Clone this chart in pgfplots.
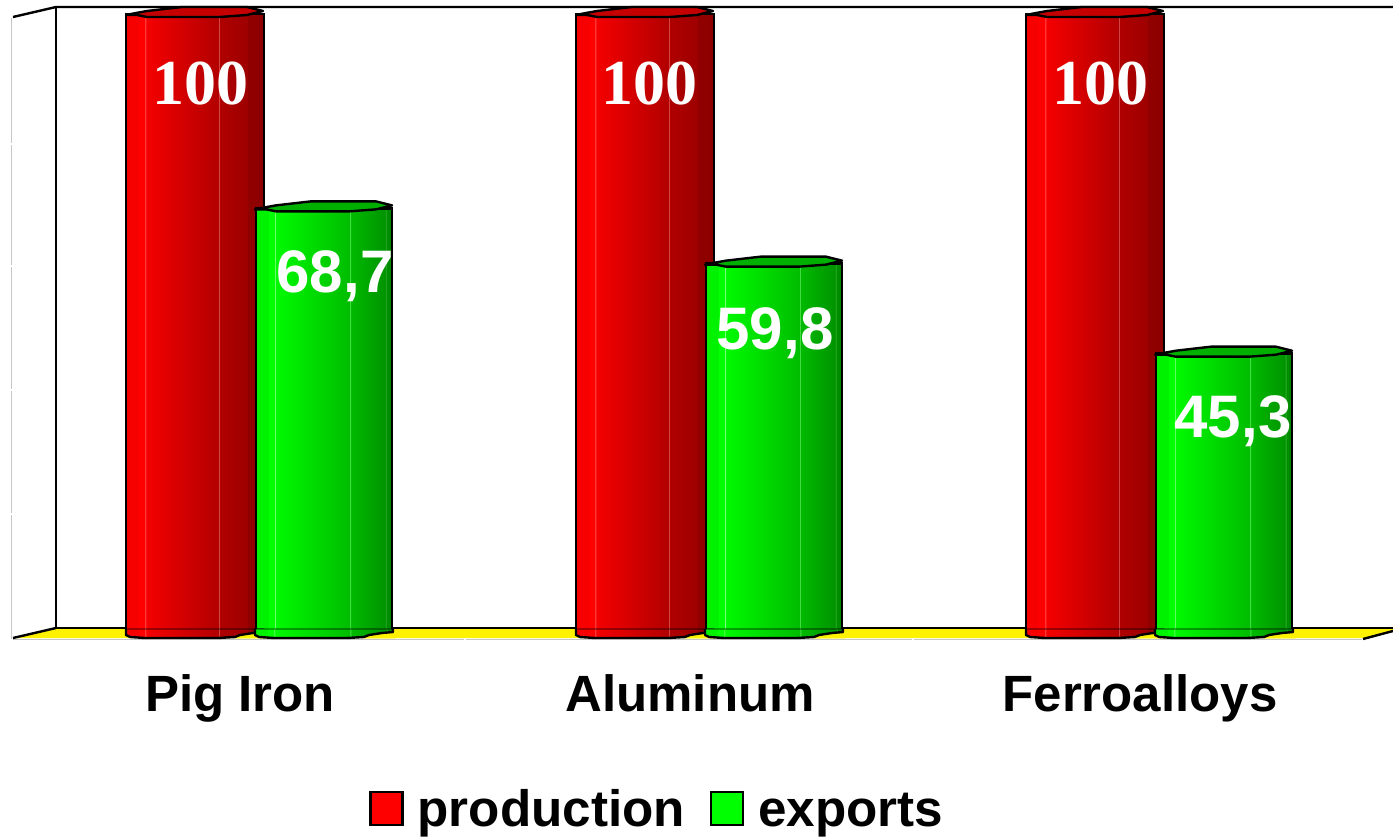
\documentclass[border=0pt]{standalone}
\usepackage{fontspec}
\setmainfont{Liberation Sans}
\newfontfamily\serifb{Liberation Serif}
\usepackage{pgfplots}
\usepackage{pgfplotstable}
\pgfplotsset{compat=1.18}
\pgfplotstableread{
x v
0 100
1 100
2 100
}\prodtable
\pgfplotstableread{
x v
0 68.7
1 59.8
2 45.3
}\exporttable
\pgfdeclarehorizontalshading{redbar}{100bp}{
 rgb(0bp)=(.97,0,0); rgb(25bp)=(.97,0,0); rgb(29.5bp)=(.97,0,0); rgb(29.6bp)=(1,0,0); rgb(31.8bp)=(1,0,0);
 rgb(32bp)=(1,.5,.5); rgb(32.3bp)=(.96,0,0); rgb(58.4bp)=(.70,0,0); rgb(58.6bp)=(.87,.35,.35); rgb(59bp)=(.69,0,0);
 rgb(69bp)=(.62,0,0); rgb(69.2bp)=(.57,0,0); rgb(75bp)=(.55,0,0); rgb(100bp)=(.55,0,0)}
\pgfdeclarehorizontalshading{greenbar}{100bp}{
 rgb(0bp)=(0,.95,0); rgb(25bp)=(0,.95,0); rgb(29.5bp)=(0,.95,0); rgb(29.6bp)=(0,1,0); rgb(31.8bp)=(0,1,0);
 rgb(32bp)=(.55,1,.55); rgb(32.3bp)=(0,.98,0); rgb(59.3bp)=(0,.74,0); rgb(59.5bp)=(.3,.88,.3); rgb(59.9bp)=(0,.73,0);
 rgb(72.4bp)=(0,.58,0); rgb(72.6bp)=(.2,.7,.2); rgb(73bp)=(0,.56,0); rgb(75bp)=(0,.52,0); rgb(100bp)=(0,.52,0)}
\definecolor{capred}{RGB}{196,0,0}
\definecolor{capgreen}{RGB}{0,176,0}
\newcommand\defcap[2]{%
 \pgfdeclareplotmark{#1}{%
  \begin{scope}[x=.5pt,y=-.5pt]
   \draw[fill=#2,line width=1.2pt,line join=round]
    (-69,1)--(-59,-1)--(-48,-3)--(-22,-6)--(-13,-7)--(52,-7)--(68,-3)--(52,1)--(25,3)--(-48,3)--(-58,1)--cycle;
  \end{scope}}}
\newcommand\defbottom[2]{%
 \pgfdeclareplotmark{#1}{%
  \begin{scope}[x=.5pt,y=-.5pt]
   \fill[yellow] (40,2)--(45,0)--(58,-2)--(69,-3)--(71,3)--(40,3)--cycle;
   \path[shading=#2] (-69,-6)--(69,-6)--(69,-3)--(58,-2)--(45,0)--(40,2)--(23,3)--(-50,3)--(-65,2)--(-69,0)--cycle;
   \draw[line width=1.2pt,line join=round] (-69,-6)--(-69,0)--(-65,2)--(-50,3)--(23,3)--(40,2)--(45,0)--(58,-2)--(69,-3)--(69,-6);
  \end{scope}}}
\defcap{rcap}{capred}
\defcap{gcap}{capgreen}
\defbottom{rbot}{redbar}
\defbottom{gbot}{greenbar}
% one plot per bar, so that each bar carries its own shading
\pgfplotsset{
 redb/.style={ybar,bar width=69pt,bar shift=-22.5pt,draw=black,line width=1.2pt,shading=redbar,forget plot},
 greenb/.style={ybar,bar width=68pt,bar shift=42pt,draw=black,line width=1.2pt,shading=greenbar,forget plot},
}
\begin{document}
\begin{tikzpicture}
\path[use as bounding box] (0,-100.5pt) rectangle (696.5pt,317.5pt);
% room: pixel coordinates, origin at pixel (0,635)
\begin{scope}[x=.5pt,y=-.5pt,yshift=317.5pt]
 \fill[yellow] (13,638)--(56,628)--(1393,628)--(1393,631)--(1363,638)--cycle;
 \draw[black!22,line width=.8pt] (11.5,18)--(11.5,639);
 \draw[white,line width=1pt] (9,144)--(14,144) (9,266)--(14,266) (9,390)--(14,390) (9,514)--(14,514);
 \draw[black!22,line width=.8pt] (13,639.5)--(1362,639.5);
 \draw[white,line width=1pt] (465,637.5)--(465,641.5) (913,637.5)--(913,641.5);
 \draw[line width=1.2pt] (13,17)--(56,7)--(1393,7);
 \draw[line width=1.2pt] (56,7)--(56,628)--(1393,628);
 \draw[line width=1.2pt] (13,638)--(56,628);
 \draw[line width=1.2pt] (1363,639)--(1393,631);
\end{scope}
\begin{axis}[
  scale only axis, width=696.5pt, height=317.5pt,
  xmin=-0.53333, xmax=2.56222, ymin=0, ymax=102.254,
  clip=false,
  axis line style={draw=none}, tick style={draw=none}, major tick length=0pt,
  ytick=\empty, xtick={0,1,2},
  xticklabels={Pig Iron,Aluminum,Ferroalloys},
  xticklabel style={font=\fontsize{25.5pt}{30pt}\selectfont\bfseries,anchor=base,yshift=-38pt},
  legend columns=2,
  legend style={at={(axis cs:0.2867,-28.65)},anchor=base west,draw=none,fill=none,inner sep=0pt,
    font=\fontsize{25.6pt}{30pt}\selectfont\bfseries,
    nodes={text height=18.6pt,text depth=5.4pt},
    /tikz/every even column/.append style={column sep=10.5pt}},
]
\addlegendimage{legend image code/.code={\draw[fill=red,line width=1.2pt] (0,-5.9pt) rectangle (16pt,10.6pt);\path[draw=none,fill=none] (0,0)--(21.5pt,0);}}
\addlegendimage{legend image code/.code={\draw[fill=green,line width=1.2pt] (0,-5.9pt) rectangle (16pt,10.6pt);\path[draw=none,fill=none] (0,0)--(21.5pt,0);}}
\addplot[redb] coordinates {(0,100)};
\addplot[redb] coordinates {(1,100)};
\addplot[redb] coordinates {(2,100)};
\addplot[only marks,mark=rbot,forget plot] table[x expr=\thisrow{x}-0.1,y expr=0] {\prodtable};
\addplot[only marks,mark=rcap,forget plot] table[x expr=\thisrow{x}-0.1,y=v] {\prodtable};
\addplot[greenb] coordinates {(0,68.7)};
\addplot[greenb] coordinates {(1,59.8)};
\addplot[greenb] coordinates {(2,45.3)};
\addplot[only marks,mark=gbot,forget plot] table[x expr=\thisrow{x}+0.18667,y expr=0] {\exporttable};
\addplot[only marks,mark=gcap,forget plot] table[x expr=\thisrow{x}+0.18667,y=v] {\exporttable};
\legend{production,exports}
\tikzset{redlab/.style={text=white,anchor=base,inner sep=0pt,font=\serifb\fontsize{32pt}{34pt}\selectfont\bfseries},
         greenlab/.style={text=white,anchor=base,inner sep=0pt,font=\fontsize{30pt}{32pt}\selectfont\bfseries}}
\node[redlab] at (axis cs:-0.0867,85.35) {100};
\node[redlab] at (axis cs:0.9111,85.35) {100};
\node[redlab] at (axis cs:1.9122,85.35) {100};
\node[greenlab] at (axis cs:0.2111,55.23) {68,7};
\node[greenlab] at (axis cs:1.1889,46.05) {59,8};
\node[greenlab] at (axis cs:2.2067,31.88) {45,3};
\end{axis}
\end{tikzpicture}
\end{document}
